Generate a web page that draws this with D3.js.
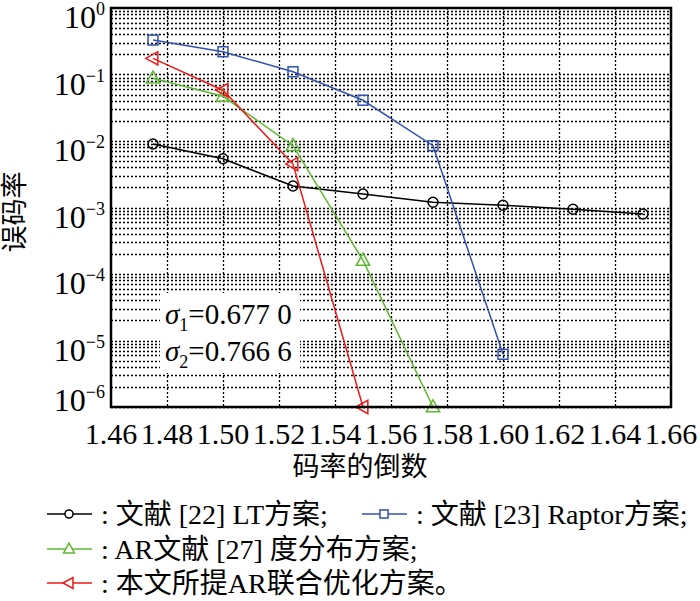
<!DOCTYPE html>
<html>
<head>
<meta charset="utf-8">
<script src="https://cdn.jsdelivr.net/npm/d3@7"></script>
<style>
  body { margin: 0; background: #fff; }
  text { font-family: "Liberation Serif", "Noto Sans CJK SC", serif; fill: #000; }
</style>
</head>
<body>
<div id="chart"></div>
<script>
(function() {
  var margin = { top: 8, left: 111, right: 29, bottom: 194 },
    width = 700 - margin.left - margin.right,
    height = 601 - margin.top - margin.bottom;

  // tick values
  var xTicks = [1.46, 1.48, 1.50, 1.52, 1.54, 1.56, 1.58, 1.60, 1.62, 1.64, 1.66];
  var yExps = [0, -1, -2, -3, -4, -5, -6];

  // series
  var ltX = [1.475, 1.50, 1.525, 1.55, 1.575, 1.60, 1.625, 1.65];
  var ltBer = [9e-3, 5.4e-3, 2.1e-3, 1.6e-3, 1.2e-3, 1.08e-3, 9.4e-4, 8.0e-4];
  var raptorX = [1.475, 1.50, 1.525, 1.55, 1.575, 1.60];
  var raptorBer = [0.33, 0.22, 0.11, 0.041, 8.5e-3, 6.2e-6];
  var arX = [1.475, 1.50, 1.525, 1.55, 1.575];
  var arBer = [0.088, 0.047, 8.5e-3, 1.6e-4, 1e-6];
  var propX = [1.475, 1.50, 1.525, 1.55];
  var propBer = [0.175, 0.058, 4.5e-3, 1e-6];

  var legendNames = [": 文献 [22] LT方案;", ": 文献 [23] Raptor方案;", ": AR文献 [27] 度分布方案;", ": 本文所提AR联合优化方案。"];

  var series = [
    { xs: ltX, ys: ltBer, color: "#000000", shape: "circle" },
    { xs: raptorX, ys: raptorBer, color: "#3150b0", shape: "square" },
    { xs: arX, ys: arBer, color: "#5cb82e", shape: "up" },
    { xs: propX, ys: propBer, color: "#f01818", shape: "left" }
  ];

  var svg = d3.select("#chart")
    .append("svg")
    .attr("width", 700)
    .attr("height", 601);

  var g = svg.append("g")
    .attr("transform", "translate(" + margin.left + "," + margin.top + ")");

  var xPositionScale = d3.scaleLinear().domain([1.46, 1.66]).range([0, width]);
  var yPositionScale = d3.scaleLog().domain([1e-6, 1]).range([height, 0]);

  // grid
  var minor = [];
  yExps.forEach(function(e) {
    if (e === 0) return;
    for (var k = 1; k < 10; k++) minor.push(k * Math.pow(10, e));
  });
  g.selectAll(".hgrid")
    .data(minor)
    .enter().append("line")
    .attr("x1", 0).attr("x2", width)
    .attr("y1", function(d) { return Math.round(yPositionScale(d)) + 0.5; })
    .attr("y2", function(d) { return Math.round(yPositionScale(d)) + 0.5; })
    .attr("stroke", "#000").attr("stroke-width", 1.3)
    .attr("stroke-dasharray", "2,2");

  g.selectAll(".vgrid")
    .data(xTicks.slice(1, -1))
    .enter().append("line")
    .attr("x1", function(d) { return Math.round(xPositionScale(d)) + 0.5; })
    .attr("x2", function(d) { return Math.round(xPositionScale(d)) + 0.5; })
    .attr("y1", 0).attr("y2", height)
    .attr("stroke", "#000").attr("stroke-width", 1.3)
    .attr("stroke-dasharray", "2,2");

  // annotation box hides grid
  g.append("rect")
    .attr("x", 49).attr("y", 285).attr("width", 140).attr("height", 80)
    .attr("fill", "#fff");
  var ann = [["1", "=0.677 0"], ["2", "=0.766 6"]];
  ann.forEach(function(a, i) {
    var t = g.append("text")
      .attr("x", 54).attr("y", 316 + i * 37)
      .attr("font-size", 29);
    t.append("tspan").attr("font-style", "italic").text("σ");
    t.append("tspan").attr("font-size", 18).attr("dy", 7).text(a[0]);
    t.append("tspan").attr("dy", -7).text(a[1]);
  });

  // lines + markers
  var line = d3.line()
    .x(function(d) { return xPositionScale(d[0]); })
    .y(function(d) { return yPositionScale(d[1]); });

  function marker(sel, shape, color, s) {
    if (shape === "circle") {
      sel.append("circle").attr("r", s * 0.45);
    } else if (shape === "square") {
      sel.append("rect").attr("x", -s * 0.45).attr("y", -s * 0.45)
        .attr("width", s * 0.9).attr("height", s * 0.9);
    } else {
      var h = s * 1.1;
      var path = "M0," + (-h * 0.6) + "L" + (h * 0.55) + "," + (h * 0.4) + "L" + (-h * 0.55) + "," + (h * 0.4) + "Z";
      sel.append("path").attr("d", path)
        .attr("transform", shape === "left" ? "rotate(-90)" : null);
    }
    sel.selectAll("*").attr("fill", "none").attr("stroke", color).attr("stroke-width", 1.5);
  }

  series.forEach(function(s) {
    var pts = s.xs.map(function(x, i) { return [x, s.ys[i]]; });
    g.append("path")
      .datum(pts)
      .attr("d", line)
      .attr("fill", "none")
      .attr("stroke", s.color)
      .attr("stroke-width", 1.5);
    pts.forEach(function(p) {
      var m = g.append("g")
        .attr("transform", "translate(" + xPositionScale(p[0]) + "," + yPositionScale(p[1]) + ")");
      marker(m, s.shape, s.color, 11);
    });
  });

  // frame
  g.append("rect")
    .attr("x", 0).attr("y", 0).attr("width", width).attr("height", height)
    .attr("fill", "none").attr("stroke", "#000").attr("stroke-width", 2.5);

  // x tick labels
  g.selectAll(".xlab")
    .data(xTicks)
    .enter().append("text")
    .attr("x", function(d) { return xPositionScale(d); })
    .attr("y", height + 37)
    .attr("text-anchor", "middle")
    .attr("font-size", 30)
    .text(function(d) { return d3.format(".2f")(d); });

  // y tick labels (bottom one pushed up like the original)
  yExps.forEach(function(e) {
    var t = g.append("text")
      .attr("x", -6)
      .attr("y", yPositionScale(Math.pow(10, e)) + (e === -6 ? 4 : 20))
      .attr("text-anchor", "end")
      .attr("font-size", 32);
    t.append("tspan").text("10");
    t.append("tspan").attr("font-size", 18).attr("dy", -13).text(e === 0 ? "0" : "\u2212" + (-e));
  });

  // axis titles
  svg.append("text")
    .attr("x", 360).attr("y", 476)
    .attr("text-anchor", "middle")
    .attr("font-size", 27)
    .text("码率的倒数");

  svg.append("text")
    .attr("transform", "translate(24,212) rotate(-90)")
    .attr("text-anchor", "middle")
    .attr("font-size", 27)
    .text("误码率");

  // legend
  var legendPos = [[47, 514], [362, 514], [47, 549], [47, 583]];
  series.forEach(function(s, i) {
    var lg = svg.append("g")
      .attr("transform", "translate(" + legendPos[i][0] + "," + legendPos[i][1] + ")");
    lg.append("line")
      .attr("x1", 0).attr("x2", 45).attr("y1", 0).attr("y2", 0)
      .attr("stroke", s.color).attr("stroke-width", 1.5);
    var m = lg.append("g").attr("transform", "translate(22,0)");
    marker(m, s.shape, s.color, 9);
    m.selectAll("*").attr("fill", "#fff");
    lg.append("text")
      .attr("x", 54).attr("y", 10)
      .attr("font-size", 28)
      .text(legendNames[i]);
  });

})();
</script>
</body>
</html>
